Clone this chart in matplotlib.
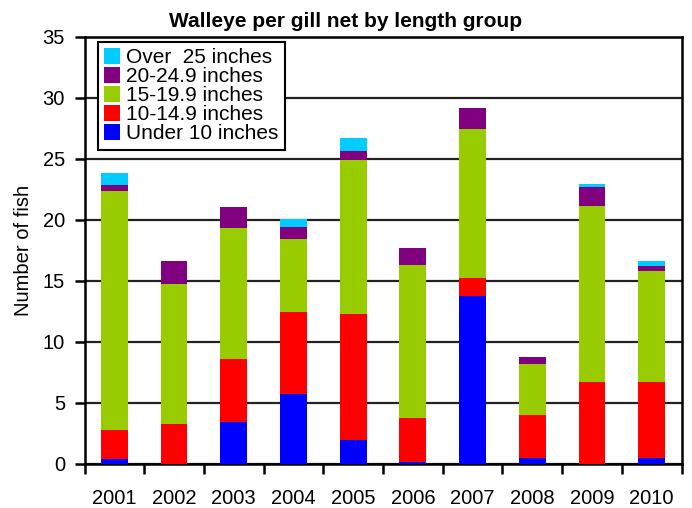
import matplotlib
matplotlib.use("Agg")
import matplotlib.pyplot as plt
import numpy as np

plt.rcParams['font.family'] = ['Liberation Sans', 'DejaVu Sans']

years = ["2001", "2002", "2003", "2004", "2005", "2006", "2007", "2008", "2009", "2010"]
under10 = [0.35, 0.0, 3.4, 5.7, 1.9, 0.15, 13.7, 0.45, 0.0, 0.45]
l10_14 = [2.4, 3.2, 5.2, 6.7, 10.35, 3.6, 1.5, 3.5, 6.7, 6.25]
l15_19 = [19.6, 11.5, 10.7, 6.0, 12.6, 12.5, 12.2, 4.2, 14.4, 9.1]
l20_24 = [0.45, 1.9, 1.7, 1.0, 0.8, 1.4, 1.7, 0.6, 1.55, 0.4]
over25 = [1.05, 0.0, 0.0, 0.65, 1.0, 0.0, 0.0, 0.0, 0.25, 0.4]

series = [
    ("Under 10 inches", under10, "#0000FF"),
    ("10-14.9 inches", l10_14, "#FF0000"),
    ("15-19.9 inches", l15_19, "#99CC00"),
    ("20-24.9 inches", l20_24, "#800080"),
    ("Over  25 inches", over25, "#00CCFF"),
]

fig = plt.figure(figsize=(6.92, 5.08), dpi=100)
ax = fig.add_axes([84.5/692, 1 - 463.5/508, (681.5-84.5)/692, (463.5-36.5)/508])

x = np.arange(len(years))
bottom = np.zeros(len(years))
handles = []
for name, vals, col in series:
    v = np.array(vals)
    b = ax.bar(x, v, width=0.45, bottom=bottom, color=col, label=name, zorder=3)
    handles.append(b)
    bottom += v

ax.set_xlim(-0.5, len(years) - 0.5)
ax.set_ylim(0, 35)
ax.set_yticks(np.arange(0, 36, 5))
ax.set_xticks(x)
ax.set_xticklabels(years)
ax.set_xticks(np.arange(-0.5, len(years), 1), minor=True)
ax.tick_params(axis='x', which='major', length=0, labelsize=14.5, pad=18)
ax.tick_params(axis='x', which='minor', length=7, width=1.8, direction='out')
ax.tick_params(axis='y', length=7, width=1.8, direction='out', labelsize=14.5, pad=7)
ax.yaxis.grid(True, color='#222222', linewidth=1.6, zorder=1)
ax.set_axisbelow(True)
for s in ax.spines.values():
    s.set_linewidth(1.8)
    s.set_color('black')

ax.set_ylabel("Number of fish", fontsize=14.5, labelpad=7)
fig.text(0.5, 1 - 27/508, "Walleye per gill net by length group", fontsize=15,
         fontweight='bold', ha='center', va='baseline')

leg = ax.legend(handles[::-1], [s[0] for s in series][::-1], loc='upper left',
                bbox_to_anchor=((98 - 84.5)/597, 1 - (42 - 36.5)/427), fontsize=15,
                frameon=True, fancybox=False, edgecolor='black',
                handlelength=0.75, handleheight=0.75, handletextpad=0.3,
                labelspacing=0.0, borderpad=0.3, borderaxespad=0.0)
leg.get_frame().set_linewidth(1.5)
leg.get_frame().set_alpha(1)

fig.savefig("out.png", dpi=100)
